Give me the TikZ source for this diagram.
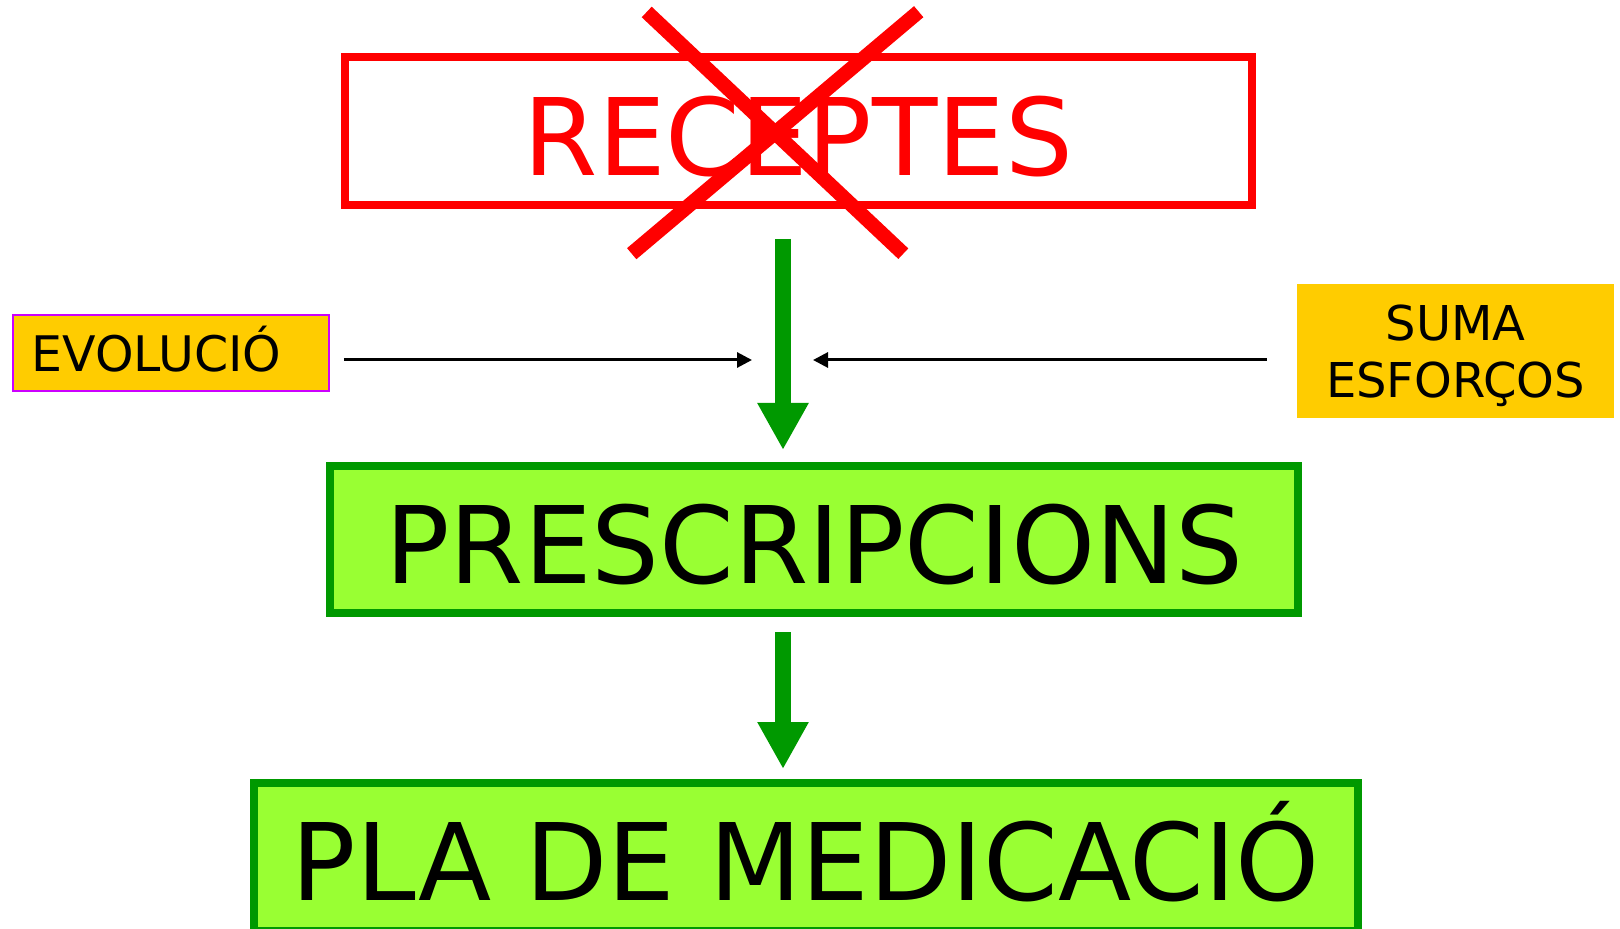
\documentclass[tikz,border=0pt]{standalone}
\usepackage{fontspec}
\setmainfont{DejaVu Sans}
\usepackage{xcolor}
\usetikzlibrary{arrows.meta,positioning}
\definecolor{cross}{HTML}{FF0000}
\definecolor{leaf}{HTML}{99FF33}
\definecolor{deep}{HTML}{009900}
\definecolor{amber}{HTML}{FFCC00}
\definecolor{violet}{HTML}{CC00FF}
\tikzset{
  big/.style={rectangle, inner sep=0pt, align=center, text height=44pt, text depth=0pt,
    font=\fontsize{53.5}{64}\selectfont},
  oldbox/.style={big, draw=cross, line width=4pt, text=cross},
  stepbox/.style={big, draw=deep, fill=leaf, line width=4pt},
  tag/.style={rectangle, draw=violet, fill=amber, line width=1pt, inner ysep=0pt, inner xsep=9.3pt,
    text width=139.5pt, align=left, text height=18.4pt, text depth=0pt,
    font=\fontsize{24.5}{28.5}\selectfont},
  note/.style={rectangle, fill=amber, inner sep=0pt, align=center, text depth=0pt,
    font=\fontsize{24}{28.5}\selectfont},
  flow/.style={draw=deep, line width=8pt, -{Triangle[length=23.5pt, width=24pt]}},
  arr/.style={line width=1.5pt, -{Triangle[length=7.5pt, width=7.5pt]}},
  strike/.style={draw=cross, line width=7.25pt}
}
\begin{document}
\begin{tikzpicture}[x=0.5pt, y=-0.5pt]
\useasboundingbox (0,0) rectangle (1620,929);
% boxes
\node[oldbox, minimum width=453.5pt, minimum height=74.25pt] (recipes) at (798.5,131.25) {RECEPTES};
\node[stepbox, minimum width=483.75pt, minimum height=73.65pt] (presc) at (814.2,539.7) {PRESCRIPCIONS};
\node[stepbox, minimum width=552pt, minimum height=73.85pt] (plan) at (806,856.8) {PLA DE MEDICACIÓ};
\node[tag, minimum height=37.85pt] (evol) at (170.85,352.85) {EVOLUCIÓ};
\node[note, minimum width=158.5pt, minimum height=67pt] (effort) at (1455.5,351) {SUMA\\ESFORÇOS};
% crossing out
\draw[strike] (646.7,12) -- (903.3,253.7);
\draw[strike] (918.7,11.7) -- (631.7,253.7);
% arrows
\coordinate (flowA) at (783,239);
\coordinate (flowB) at (783,450);
\coordinate (flowC) at (783,632);
\coordinate (flowD) at (783,769);
\coordinate (meetL) at (752,360);
\coordinate (meetR) at (813,360);
\draw[flow] (flowA) -- (flowB);
\draw[flow] (flowC) -- (flowD);
\draw[arr, shorten <=7pt] (evol.east |- meetL) -- (meetL);
\draw[arr, shorten <=15pt] (effort.west |- meetR) -- (meetR);
\end{tikzpicture}
\end{document}
